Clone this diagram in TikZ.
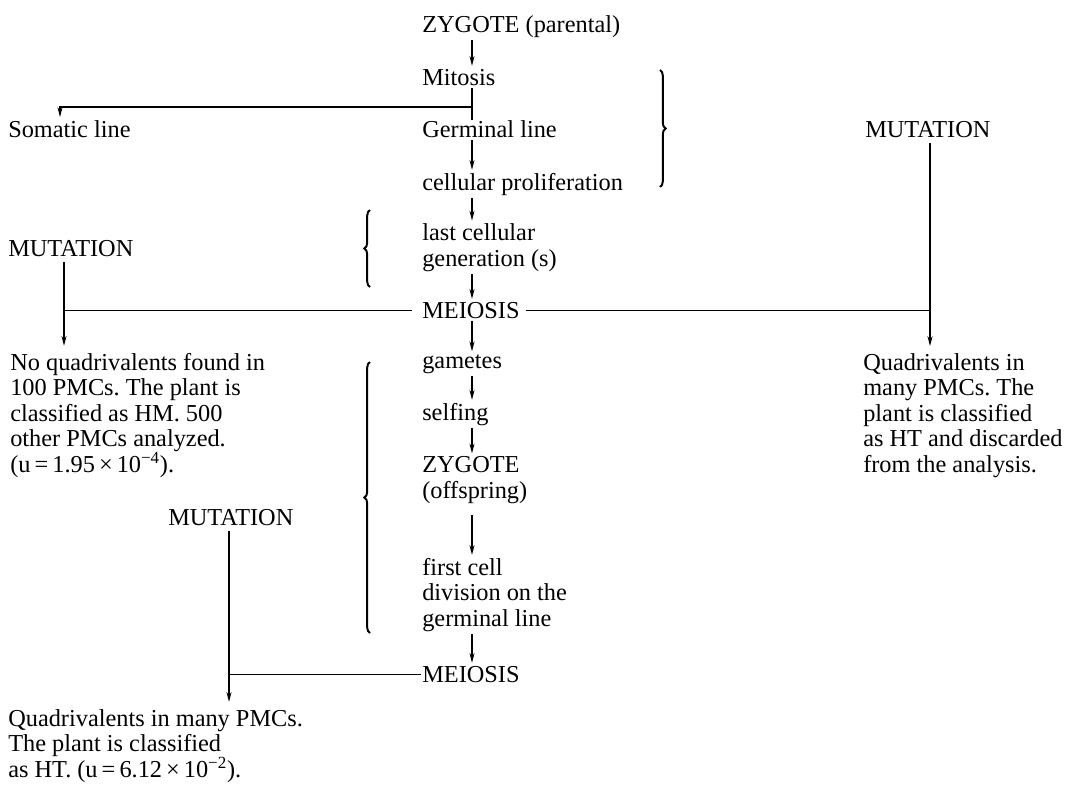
\documentclass[tikz,border=0pt]{standalone}
\usepackage{fontspec}
\setmainfont{Liberation Serif}
\frenchspacing
\usetikzlibrary{arrows.meta,decorations.pathreplacing}
\begin{document}
\begin{tikzpicture}[x=0.025cm,y=-0.025cm,
  txt/.style={font=\fontsize{17.3}{18.1}\selectfont, inner sep=0pt, anchor=base west, align=left},
  ln/.style={line width=0.8pt},
  arr/.style={line width=0.8pt, -{Stealth[length=7pt,width=3.6pt]}, shorten <=2pt, shorten >=2pt},
  brc/.style={decorate, decoration={brace, amplitude=4pt}, line width=1.4pt}]
\useasboundingbox (0,0) rectangle (1066,785);
% axes
\coordinate (ax) at (472,0);
\coordinate (sa) at (60,0);
\coordinate (la) at (64,0);
\coordinate (ra) at (930,0);
\coordinate (lb) at (229,0);
% nodes (base = baseline of last line)
\node[txt] (zp) at (422,32) {ZYGOTE (parental)};
\node[txt] (mit) at (422,85) {Mitosis};
\node[txt] (som) at (8,137) {Somatic line};
\node[txt] (ger) at (422,137) {Germinal line};
\node[txt] (cp) at (422,190) {cellular proliferation};
\node[txt] (lc) at (422,266) {last cellular\\generation (s)};
\node[txt] (mut1) at (8,256) {MUTATION};
\node[txt] (mut2) at (865,137) {MUTATION};
\node[txt] (mei1) at (422,318) {MEIOSIS};
\node[txt] (noq) at (10,472) {No quadrivalents found in\\100 PMCs. The plant is\\classified as HM. 500\\other PMCs analyzed.\\(u\,=\,1.95\,×\,10\textsuperscript{−4}).};
\node[txt] (qr) at (863,472) {Quadrivalents in\\many PMCs. The\\plant is classified\\as HT and discarded\\from the analysis.};
\node[txt] (gam) at (422,368) {gametes};
\node[txt] (sel) at (422,420) {selfing};
\node[txt] (zo) at (422,498) {ZYGOTE\\(offspring)};
\node[txt] (mut3) at (168,525) {MUTATION};
\node[txt] (fc) at (422,626) {first cell\\division on the\\germinal line};
\node[txt] (mei2) at (422,682) {MEIOSIS};
\node[txt] (qb) at (8,777) {Quadrivalents in many PMCs.\\The plant is classified\\as HT. (u\,=\,6.12\,×\,10\textsuperscript{−2}).};
% center column
\draw[arr] (zp.south -| ax) -- (mit.north -| ax);
\draw[ln, shorten <=2pt] (mit.south -| ax) -- (ger.north -| ax);
\coordinate (br) at (472,107);
\draw[arr, shorten <=0pt] (br) -| (som.north -| sa);
\draw[arr] (ger.south -| ax) -- (cp.north -| ax);
\draw[arr] (cp.south -| ax) -- (lc.north -| ax);
\draw[arr] (lc.south -| ax) -- (mei1.north -| ax);
\draw[arr] (mei1.south -| ax) -- (gam.north -| ax);
\draw[arr] (gam.south -| ax) -- (sel.north -| ax);
\draw[arr] (sel.south -| ax) -- (zo.north -| ax);
\draw[arr, shorten <=8pt] (zo.south -| ax) -- (fc.north -| ax);
\draw[arr] (fc.south -| ax) -- (mei2.north -| ax);
% mutation branches
\draw[arr, shorten <=4pt, shorten >=5pt] (mut1.south -| la) -- (noq.north -| la);
\draw[ln, shorten <=7pt] (mei1.west) -- (mei1.west -| la);
\draw[ln, shorten <=4pt] (mei1.east) -- (mei1.east -| ra);
\draw[arr, shorten <=4pt, shorten >=5pt] (mut2.south -| ra) -- (qr.north -| ra);
\draw[arr, shorten <=4pt, shorten >=5pt] (mut3.south -| lb) -- (qb.north -| lb);
\draw[ln, shorten <=1pt] (mei2.west) -- (mei2.west -| lb);
% braces
\draw[brc] (660,70) -- (660,187);
\draw[brc] (370,287) -- (370,210);
\draw[brc] (370,633) -- (370,362);
\end{tikzpicture}
\end{document}
